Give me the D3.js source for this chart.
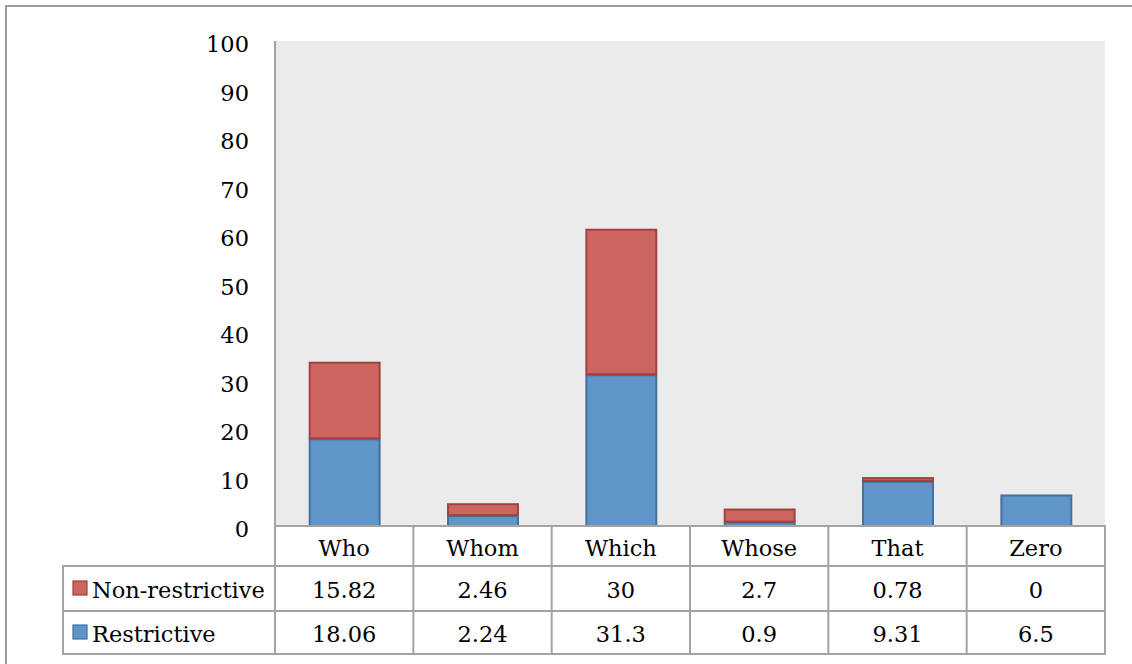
<!DOCTYPE html>
<html><head><meta charset="utf-8">
<script src="https://cdn.jsdelivr.net/npm/d3@7"></script>
<style>html,body{margin:0;padding:0;background:#fff;}svg{display:block;}</style>
</head><body>
<svg id="c" width="1132" height="664"></svg>
<script>
const categories = ["Who","Whom","Which","Whose","That","Zero"];
const restrictive = [18.06, 2.24, 31.3, 0.9, 9.31, 6.5];
const nonRestrictive = [15.82, 2.46, 30, 2.7, 0.78, 0];
const restrictiveLabels = ["18.06","2.24","31.3","0.9","9.31","6.5"];
const nonRestrictiveLabels = ["15.82","2.46","30","2.7","0.78","0"];
const seriesNames = ["Non-restrictive","Restrictive"];
const yTicks = [0,10,20,30,40,50,60,70,80,90,100];

const svg = d3.select("#c");
const font = "'DejaVu Serif', serif";
const fs = 22.5;
const L = 275, R = 1105, T = 41, B = 526;
const rowY = [526, 566, 611, 654];
const tableLeft = 63;
const gridCol = "#a3a3a3";

// outer border
svg.append("rect").attr("x",6).attr("y",6).attr("width",1140).attr("height",700)
  .attr("fill","none").attr("stroke","#9a9a9a").attr("stroke-width",2);

// plot background
svg.append("rect").attr("x",L).attr("y",T).attr("width",R-L).attr("height",B-T).attr("fill","#ebebeb");

const x = d3.scaleBand().domain(categories).range([L,R]).paddingInner(0.48).paddingOuter(0.24);
const xc = d3.scaleBand().domain(categories).range([L,R]);
const y = d3.scaleLinear().domain([0,100]).range([B,T]);

const colors = {res:{fill:"#5f95c9",stroke:"#42719f"}, non:{fill:"#cc655f",stroke:"#a2413d"}};

const stackData = categories.map((c,i)=>({cat:c, res:restrictive[i], non:nonRestrictive[i]}));
const stack = d3.stack().keys(["res","non"])(stackData);
stack.forEach(layer=>{
  const col = colors[layer.key];
  svg.append("g").selectAll("rect").data(layer.filter(d=>d[1]-d[0]>0)).join("rect")
    .attr("x",d=>x(d.data.cat)+1.5)
    .attr("width",x.bandwidth()-2)
    .attr("y",d=>y(d[1])+1)
    .attr("height",d=>Math.max(0,y(d[0])-y(d[1])-1))
    .attr("fill",col.fill).attr("stroke",col.stroke).attr("stroke-width",2);
});

// y axis labels
const yAxis = d3.axisLeft(y).tickValues(yTicks).tickSize(0).tickPadding(0);
const ya = svg.append("g").attr("transform",`translate(249,0)`).call(yAxis);
ya.select(".domain").remove();
ya.selectAll("text").attr("font-family",font).attr("font-size",fs).attr("fill","#000").attr("dy","0.48em");

// table lines
const g = svg.append("g").attr("stroke",gridCol).attr("stroke-width",2);
g.append("line").attr("x1",L).attr("x2",L).attr("y1",T).attr("y2",rowY[3]+1);
g.append("line").attr("x1",L-1).attr("x2",R+1).attr("y1",rowY[0]).attr("y2",rowY[0]);
[1,2,3].forEach(k=>g.append("line").attr("x1",tableLeft-1).attr("x2",R+1).attr("y1",rowY[k]).attr("y2",rowY[k]));
g.append("line").attr("x1",tableLeft).attr("x2",tableLeft).attr("y1",rowY[1]).attr("y2",rowY[3]+1);
categories.forEach(c=>{
  const xr = xc(c)+xc.bandwidth();
  g.append("line").attr("x1",xr).attr("x2",xr).attr("y1",rowY[0]).attr("y2",rowY[3]+1);
});

// category header text
const xAxis = d3.axisBottom(xc).tickSize(0).tickPadding(0);
const xa = svg.append("g").attr("transform",`translate(0,${(rowY[0]+rowY[1])/2})`).call(xAxis);
xa.select(".domain").remove();
xa.selectAll("text").attr("font-family",font).attr("font-size",fs).attr("fill","#000").attr("dy","0.45em").attr("y",0);

// data rows
const rows = [
  {name:seriesNames[0], labels:nonRestrictiveLabels, col:colors.non, y0:rowY[1], y1:rowY[2]},
  {name:seriesNames[1], labels:restrictiveLabels, col:colors.res, y0:rowY[2], y1:rowY[3]}
];
rows.forEach(r=>{
  const cy = (r.y0+r.y1)/2;
  svg.append("rect").attr("x",73).attr("y",cy-7.5).attr("width",14).attr("height",14)
    .attr("fill",r.col.fill).attr("stroke",r.col.stroke).attr("stroke-width",1.2);
  svg.append("text").attr("x",92).attr("y",cy).attr("dy","0.42em")
    .attr("font-family",font).attr("font-size",fs).attr("fill","#000").text(r.name);
  svg.append("g").selectAll("text").data(r.labels).join("text")
    .attr("x",(d,i)=>xc(categories[i])+xc.bandwidth()/2).attr("y",cy).attr("dy","0.42em")
    .attr("text-anchor","middle").attr("font-family",font).attr("font-size",fs).attr("fill","#000")
    .text(d=>d);
});
</script>
</body></html>
